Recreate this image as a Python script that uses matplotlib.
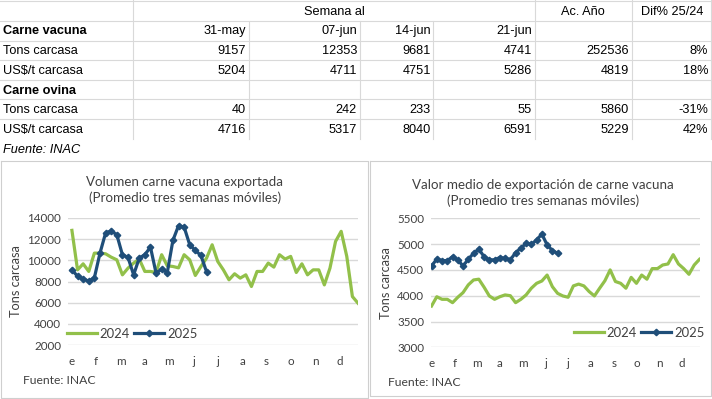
import matplotlib
matplotlib.use("Agg")
import matplotlib.pyplot as plt
import numpy as np

# datos de la tabla
fechas = ["31-may", "07-jun", "14-jun", "21-jun"]
vac_tons = [9157, 12353, 9681, 4741]
vac_usd = [5204, 4711, 4751, 5286]
ovi_tons = [40, 242, 233, 55]
ovi_usd = [4716, 5317, 8040, 6591]
acum = [252536, 4819, 5860, 5229]
dif = ["8%", "18%", "-31%", "42%"]

# series semanales (promedio tres semanas moviles)
vol_2024 = [12830, 9100, 9670, 8950, 10680, 10680, 10620, 10300, 10050, 8630,
            9260, 9740, 10120, 8950, 8950, 8850, 10530, 9480, 9420, 9290,
            10530, 10050, 8570, 9420, 10210, 11470, 9890, 9100, 8160, 8730,
            8320, 8630, 7530, 8950, 8950, 9740, 9360, 10530, 10120, 10370,
            8850, 9670, 8630, 9100, 9100, 7680, 9260, 11790, 12740, 10370,
            6580, 5950]
vol_2025 = [9100, 8500, 8250, 8030, 8350, 10680, 12580, 12770, 12420, 10530,
            10270, 8630, 10210, 10530, 11250, 8790, 9170, 8850, 11880, 13270,
            13150, 11470, 10940, 10460, 8920]
val_2024 = [3800, 3980, 3930, 3930, 3865, 3970, 4060, 4210, 4305, 4320,
            4165, 3995, 3930, 3980, 4015, 4000, 3865, 3930, 4015, 4145,
            4240, 4285, 4400, 4175, 4045, 3995, 3970, 4190, 4225, 4190,
            4080, 3995, 4145, 4290, 4500, 4275, 4240, 4145, 4355, 4240,
            4400, 4320, 4525, 4525, 4595, 4615, 4795, 4615, 4525, 4415,
            4595, 4705]
val_2025 = [4575, 4710, 4680, 4680, 4755, 4695, 4575, 4710, 4820, 4905,
            4755, 4695, 4695, 4740, 4725, 4695, 4835, 4920, 5015, 4995,
            5080, 5195, 4985, 4875, 4820]
meses = ["e", "f", "m", "a", "m", "j", "j", "a", "s", "o", "n", "d"]

W, H = 712, 399
VERDE = "#92C04A"
AZUL = "#1F4E79"
GRIS = "#404040"
LINEA = "#D9D9D9"

fig = plt.figure(figsize=(W / 100, H / 100), dpi=100)

# fondo con coordenadas en pixeles
bg = fig.add_axes([0, 0, 1, 1])
bg.set_xlim(0, W)
bg.set_ylim(H, 0)
bg.axis("off")

# ---- tabla ----
tf = dict(family="Liberation Sans", fontsize=9.2, color="black")
for y in [1, 21, 41, 60, 80, 99, 119]:
    bg.plot([0, W], [y, y], color=LINEA, lw=0.8)
for x in [133, 535, 632, 711]:
    bg.plot([x, x], [0, 139], color=LINEA, lw=0.8)
for x in [249, 360, 433]:
    bg.plot([x, x], [21, 139], color=LINEA, lw=0.8)

bg.text(334, 12, "Semana al", ha="center", va="center", **tf)
bg.text(583, 12, "Ac. Año", ha="center", va="center", **tf)
bg.text(672, 12, "Dif% 25/24", ha="center", va="center", **tf)

filas_y = [31, 51, 71, 91, 110, 130]
bg.text(3, filas_y[0], "Carne vacuna", ha="left", va="center", fontweight="bold", **tf)
bg.text(3, filas_y[1], "Tons carcasa", ha="left", va="center", **tf)
bg.text(3, filas_y[2], "US$/t carcasa", ha="left", va="center", **tf)
bg.text(3, filas_y[3], "Carne ovina", ha="left", va="center", fontweight="bold", **tf)
bg.text(3, filas_y[4], "Tons carcasa", ha="left", va="center", **tf)
bg.text(3, filas_y[5], "US$/t carcasa", ha="left", va="center", **tf)

cols_x = [246, 357, 431, 532]
for i, f in enumerate(fechas):
    bg.text(cols_x[i], filas_y[0], f, ha="right", va="center", **tf)
filas_val = [(vac_tons, 1), (vac_usd, 2), (ovi_tons, 4), (ovi_usd, 5)]
for k, (serie, r) in enumerate(filas_val):
    for i, v in enumerate(serie):
        bg.text(cols_x[i], filas_y[r], str(v), ha="right", va="center", **tf)
    bg.text(629, filas_y[r], str(acum[k]), ha="right", va="center", **tf)
    bg.text(708, filas_y[r], dif[k], ha="right", va="center", **tf)

bg.text(3, 150, "Fuente: INAC", ha="left", va="center", style="italic", **tf)

# marcos de los graficos
bg.plot([0.5, 368, 368, 0.5, 0.5], [161, 161, 398, 398, 161], color="#CFCFCF", lw=0.8)
bg.plot([370, 711, 711, 370, 370], [161, 161, 396, 396, 161], color="#CFCFCF", lw=0.8)

cf = "Lato"


def grafico(rect, v24, v25, ylim, paso, titulo, xlim, leg_xy):
    x0, y0, x1, y1 = rect
    ax = fig.add_axes([x0 / W, 1 - y1 / H, (x1 - x0) / W, (y1 - y0) / H])
    ax.patch.set_alpha(0)
    ax.plot(range(len(v24)), v24, color=VERDE, lw=2.3, label="2024",
            solid_joinstyle="round")
    ax.plot(range(len(v25)), v25, color=AZUL, lw=2.3, marker="D",
            markersize=3.3, label="2025", solid_joinstyle="round")
    ax.set_ylim(*ylim)
    ax.set_xlim(*xlim)
    ax.set_yticks(np.arange(ylim[0], ylim[1] + 1, paso))
    ax.set_xticks(np.arange(12) * 52 / 12)
    ax.set_xticklabels(meses)
    ax.grid(axis="y", color=LINEA, lw=1)
    ax.set_axisbelow(True)
    for s in ax.spines.values():
        s.set_visible(False)
    ax.tick_params(length=0, labelsize=8.4, labelcolor=GRIS)
    ax.tick_params(axis="x", pad=8)
    ax.tick_params(axis="y", pad=5)
    for t in ax.get_xticklabels() + ax.get_yticklabels():
        t.set_family(cf)
    ax.set_ylabel("Tons carcasa", fontsize=9.2, family=cf, color=GRIS, labelpad=4)
    bg.text(titulo[0], titulo[1], titulo[2], ha="center", va="center",
            fontsize=9.6, family=cf, color=GRIS, linespacing=1.35)
    leg = ax.legend(loc="center left", bbox_to_anchor=(leg_xy[0] / W, 1 - leg_xy[1] / H),
                    bbox_transform=fig.transFigure, ncol=2, frameon=False,
                    prop={"family": cf, "size": 9.4}, handlelength=2.3,
                    handletextpad=0.2, columnspacing=0.35, borderpad=0,
                    borderaxespad=0)
    for t in leg.get_texts():
        t.set_color(GRIS)
    return ax


grafico((68, 218, 358, 345), vol_2024, vol_2025, (2000, 14000), 2000,
        (185, 190, "Volumen carne vacuna exportada\n(Promedio tres semanas móviles)"),
        (-0.7, 51), (67, 334))
grafico((431, 218.3, 700, 347.3), val_2024, val_2025, (3000, 5500), 500,
        (543, 193, "Valor medio de exportación de carne vacuna\n(Promedio tres semanas móviles)"),
        (-0.1, 51.1), (574, 333))

bg.text(23, 381, "Fuente: INAC", ha="left", va="center", fontsize=8.7, family=cf, color=GRIS)
bg.text(388, 383, "Fuente: INAC", ha="left", va="center", fontsize=8.7, family=cf, color=GRIS)

fig.savefig("out.png", dpi=100)
